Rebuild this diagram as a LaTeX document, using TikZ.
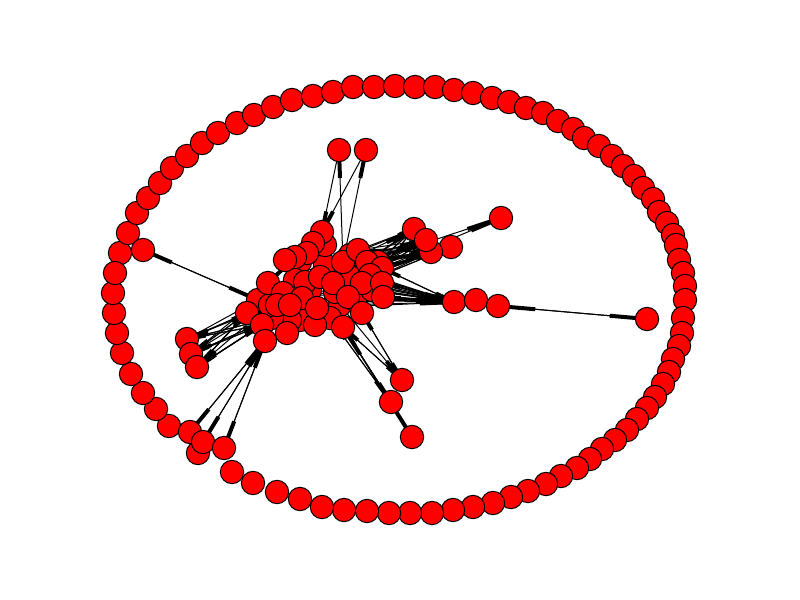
\documentclass[tikz,border=0pt]{standalone}
\usetikzlibrary{calc,backgrounds}
\tikzset{
  nd/.style={circle,draw=black,fill=red,line width=0.75pt,minimum size=17.5pt,inner sep=0pt},
  edgeline/.style={draw=black,line width=0.75pt},
  headseg/.style={draw=black,line width=3pt}
}
\newcommand\nxedge[2]{%
  \draw[edgeline] (#1.center) -- (#2.center);
  \draw[headseg] ($(#1.center)!0.75!(#2.center)$) -- (#2.center);}
\begin{document}
\begin{tikzpicture}[x=0.75pt,y=-0.75pt]
\useasboundingbox (0,0) rectangle (800,600);
% ring of isolated nodes
\foreach \x/\y [count=\i] in {120/253,128/233,137/213,148/198,160/183,172/168,187/156,202/143,218/133,237/123,254/115,273/107,292/100,313/96,333/92,353/87,374/87,395/86,415/87,435/87,454/90,473/93,492/98,509/102,526/108,543/113,558/121,573/129,584/138,599/146,612/156,623/166,634/176,643/188,653/199,659/212,667/223,673/235,676/245,679/260,683/273,685/286,685/300,683/318,682/333,679/346,673/359,669/372,663/384,655/397,647/408,637/419,627/430,615/440,602/449,590/459,577/468,561/476,546/484,528/491,511/497,493/503,473/507,453/510,432/513,410/513,389/513,367/511,344/510,322/507,300/499,277/492,253/483,232/472,169/426,156/409,143/393,131/374,122/353,117/333,114/313,113/293,115/273}
  {\node[nd] (r\i) at (\x,\y) {};}
% outlying nodes
\node[nd] (A) at (339,150) {};
\node[nd] (B) at (366,150) {};
\node[nd] (P) at (143,250) {};
\node[nd] (T1) at (414,229) {};
\node[nd] (T4) at (451,247) {};
\node[nd] (T3) at (431,252) {};
\node[nd] (T2) at (426,240) {};
\node[nd] (Q) at (501,218) {};
\node[nd] (H1) at (454,302) {};
\node[nd] (H2) at (476,300) {};
\node[nd] (H3) at (498,306) {};
\node[nd] (R) at (647,319) {};
\node[nd] (L1) at (402,380) {};
\node[nd] (L2) at (391,402) {};
\node[nd] (L3) at (412,437) {};
\node[nd] (W1) at (187,339) {};
\node[nd] (W2) at (191,354) {};
\node[nd] (W3) at (197,367) {};
\node[nd] (S1) at (190,432) {};
\node[nd] (S3) at (198,453) {};
\node[nd] (S2) at (203,442) {};
\node[nd] (S4) at (224,448) {};
% central cluster (back to front)
\foreach \n/\x/\y in {b1/300/262,b2/340/270,b3/325/265,b4/352/278,b5/310/290,b6/295/280,b7/275/295,b8/340/305,b9/330/318,b10/300/320,b11/315/325,b12/355/300,b13/372/290,b14/290/320,b15/272/318,b16/258/300,b17/350/255,b18/375/278,b19/270/305,b20/325/245,b21/378/262,b22/335/292}
  {\node[nd] (\n) at (\x,\y) {};}
\foreach \n/\x/\y in {C/322/232,f1/313/243,f2/307/253,f3/295/257,f4/285/260,D/343/262,f5/358/250,f6/367/262,f7/382/268,f8/370/275,f9/268/283,f10/283/293,f11/305/282,f12/320/277,f13/333/283,f14/362/283,f15/382/283,f16/348/297,f17/383/297,f18/247/313,f19/262/325,f20/302/298,f21/277/305,f22/290/305,f23/317/308,f24/362/313,f25/287/333,D2/343/327,K/265/341}
  {\node[nd] (\n) at (\x,\y) {};}
\begin{pgfonlayer}{background}
% top
\foreach \a/\b in {A/C,B/C,D/A,D/B}
  {\nxedge{\a}{\b}}
% left outlier
\foreach \a/\b in {P/b16,b16/P}
  {\nxedge{\a}{\b}}
% left fan
\foreach \a/\b in {f18/W1,f18/W2,f18/W3,f19/W1,f19/W2,f19/W3,b15/W1,b15/W2,b15/W3,b16/W2,b16/W3,b19/W1,b19/W3,W1/f18,W2/f18,W3/f18,W1/f19,W2/f19,W3/f19,W2/b15,W3/b15,W1/b16,W2/b19,W1/b15}
  {\nxedge{\a}{\b}}
% lower left
\foreach \a/\b in {K/S1,K/S2,K/S4,S1/K,S2/K,S4/K}
  {\nxedge{\a}{\b}}
% lower right
\foreach \a/\b in {D2/L1,L1/D2,f24/L1,b8/L1,L1/f24,D2/L2,L2/D2,b9/L2,L2/b9,D2/L3,L3/D2,L2/L3,L3/L2}
  {\nxedge{\a}{\b}}
% right wedge
\foreach \a/\b in {f15/H1,f17/H1,f14/H1,f16/H1,b13/H1,b12/H1,f7/H1,b18/H1,f11/H1,f12/H1,f13/H1,b5/H1,b22/H1,f20/H1,b8/H1,f23/H1,f10/H1,b4/H1,b2/H1,H1/f15,H1/f17,H1/b13,H1/f14,H1/b18,H1/f7,H1/f8,H1/b12,H1/H2,H2/H3,H3/R,R/H3}
  {\nxedge{\a}{\b}}
% top right fan
\foreach \a/\b in {f5/T1,f5/T2,f5/T3,f5/T4,f6/T1,f6/T2,f6/T3,f6/T4,f7/T1,f7/T2,f7/T3,f7/T4,f8/T2,f8/T3,f8/T4,D/T2,D/T3,b17/T1,b17/T4,b21/T1,b21/T2,b21/T3,b21/T4,b18/T3,b18/T4,f12/T2,f12/T4,f13/T3,f13/T1,b3/T2,b2/T4,b2/T3,f11/T1,b4/T2,b4/T4,T1/f7,T2/f6,T3/f8,T4/f7,T4/b21,T1/b21,T2/b21,T3/f7,T4/b18,f7/Q,f6/Q}
  {\nxedge{\a}{\b}}
% inside the cluster
\foreach \a/\b in {C/f9,f1/f16,f4/f17,f9/f15,f12/f25,f10/D2,f18/f14,f2/K}
  {\nxedge{\a}{\b}}
\end{pgfonlayer}
\end{tikzpicture}
\end{document}
